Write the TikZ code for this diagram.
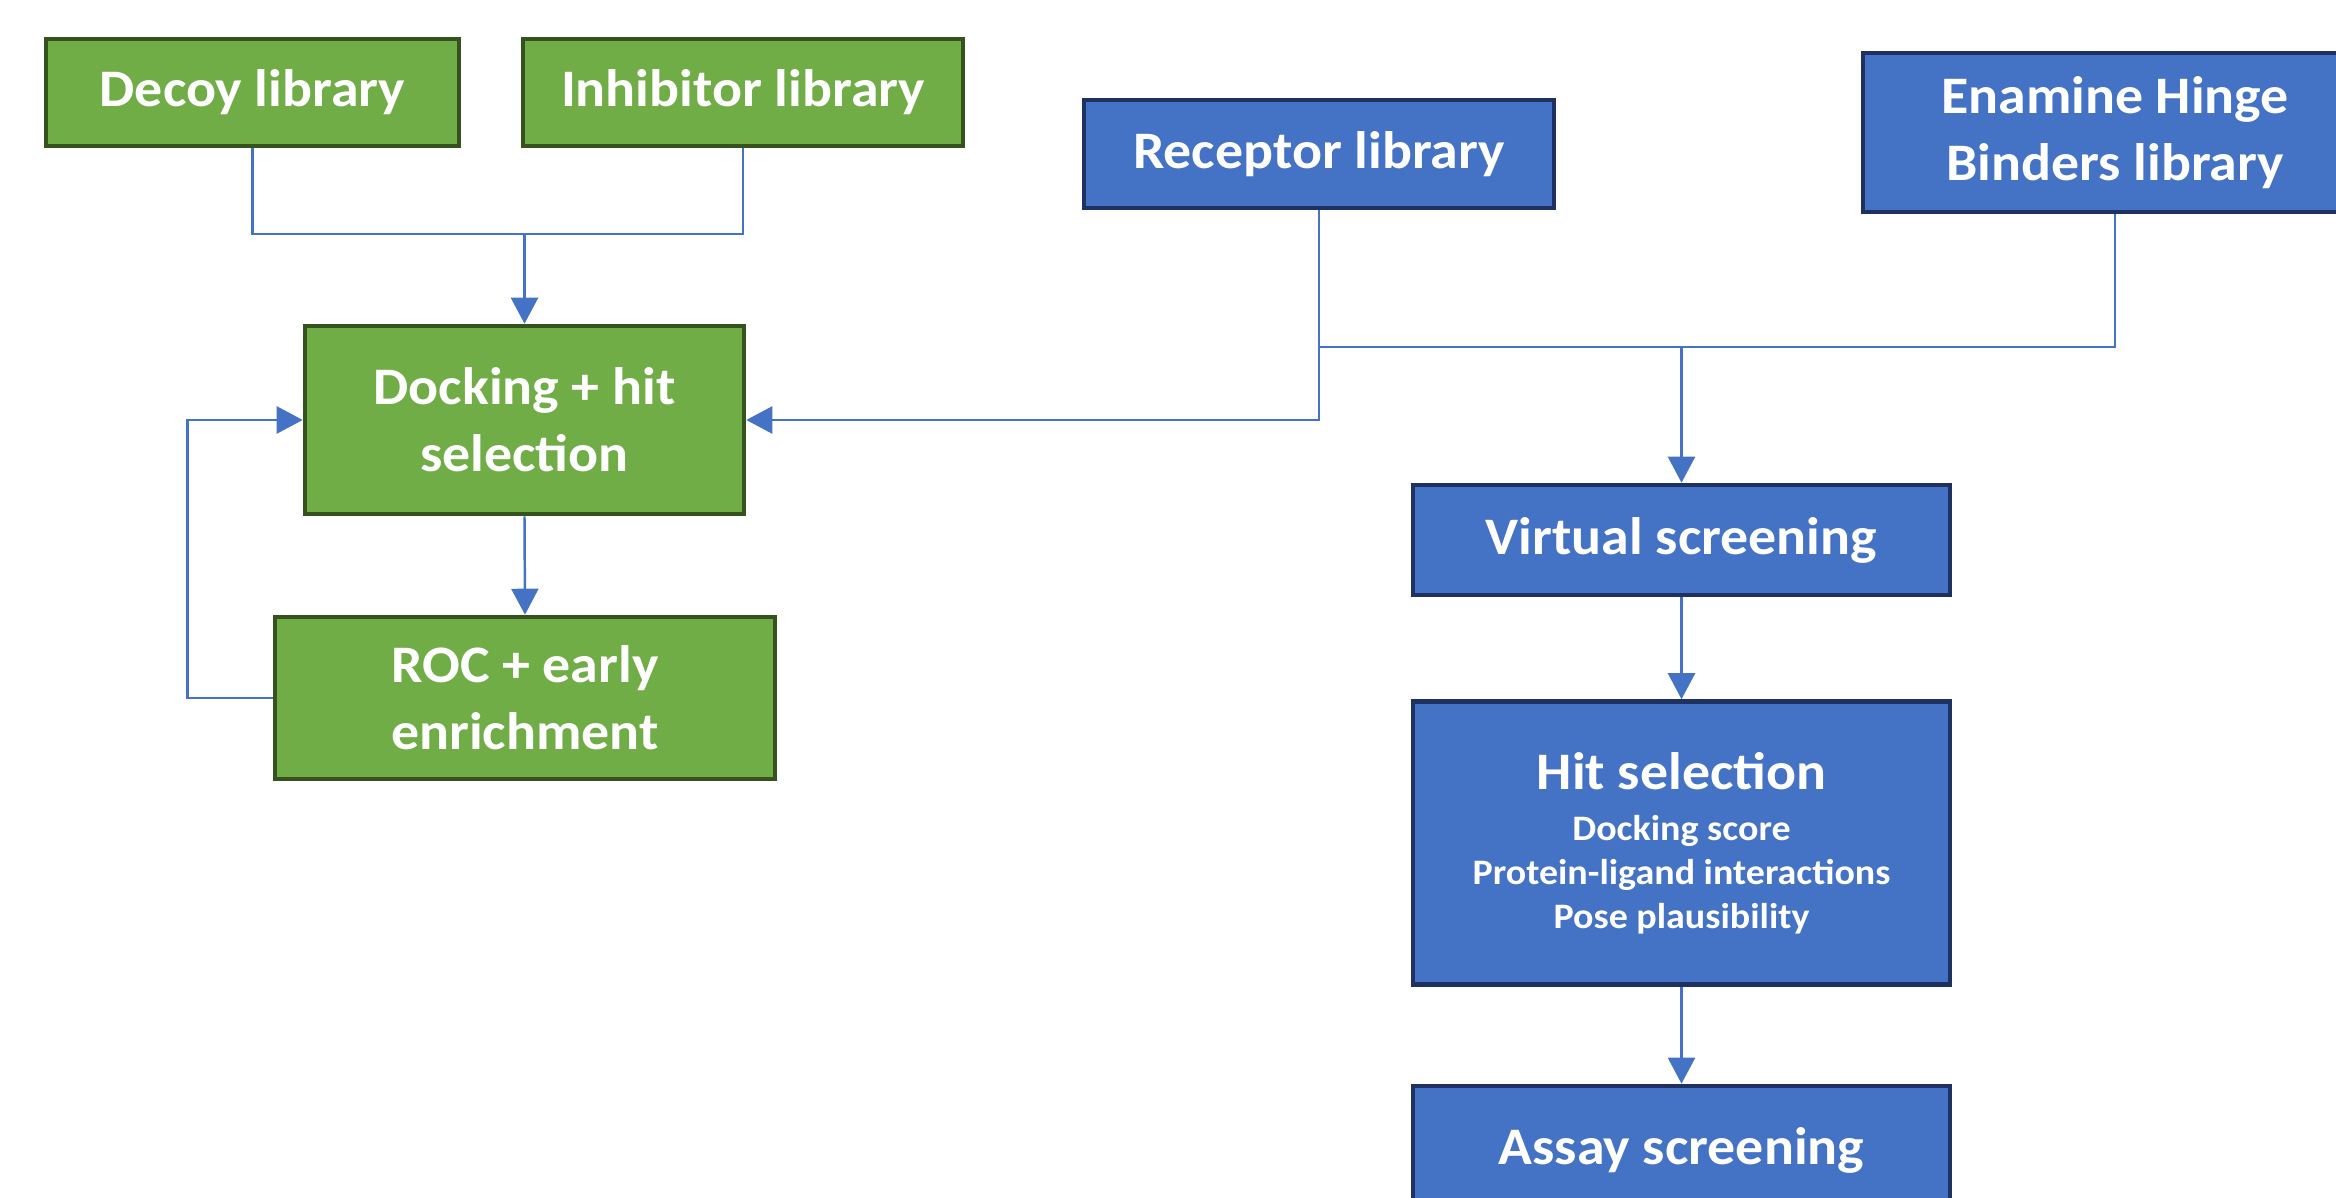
\documentclass[tikz,border=0pt]{standalone}
\usepackage{fontspec}
\setmainfont{Carlito}[FakeStretch=1.06]
\usetikzlibrary{arrows.meta}

\definecolor{stagegreen}{HTML}{70AD47}
\definecolor{stagegreenline}{HTML}{36531F}
\definecolor{stageblue}{HTML}{4472C4}
\definecolor{stageblueline}{HTML}{1E3160}

\begin{document}
\begin{tikzpicture}[x=0.1mm, y=-0.1mm,
                    box/.style={draw, line width=1.3pt, text=white,
                                font=\bfseries\fontsize{15}{19}\selectfont,
                                align=center, inner sep=0pt},
                    green box/.style={box, fill=stagegreen, draw=stagegreenline},
                    blue box/.style={box, fill=stageblue, draw=stageblueline},
                    link/.style={draw=stageblue, line width=0.7pt},
                    arrow/.style={link, -{Triangle[width=2.7mm,length=2.6mm]}}]

  % page frame, boxes on the right run off the edge
  \clip (0,0) rectangle (2336,1198);

  % Validation branch (green)
  \node [green box, minimum width=41.3mm, minimum height=10.7mm]
        (decoy lib) at (252.5,92.5) {Decoy library};
  \node [green box, minimum width=44mm, minimum height=10.7mm]
        (inhibitor lib) at (743,92.5) {Inhibitor library};
  \node [green box, minimum width=43.9mm, minimum height=18.8mm]
        (docking) at (524.5,420) {Docking + hit\\selection};
  \node [green box, minimum width=50mm, minimum height=16.2mm]
        (roc) at (525,698) {ROC + early\\enrichment};

  % Screening branch (blue)
  \node [blue box, minimum width=47mm, minimum height=10.8mm]
        (receptor lib) at (1319,154) {Receptor library};
  \node [blue box, minimum width=50.4mm, minimum height=15.9mm]
        (enamine lib) at (2115,132.5) {Enamine Hinge\\Binders library};
  \node [blue box, minimum width=53.7mm, minimum height=11mm]
        (virtual) at (1681.5,540) {Virtual screening};
  \node [blue box, minimum width=53.7mm, minimum height=28.3mm,
         font=\bfseries\fontsize{10.2}{12.5}\selectfont]
        (hit sel) at (1681.5,843)
        {{\fontsize{15}{14}\selectfont Hit selection}\\[2pt]
         Docking score\\Protein-ligand interactions\\Pose plausibility};
  \node [blue box, minimum width=53.7mm, minimum height=12.8mm]
        (assay) at (1681.5,1150) {Assay screening};

  % Joints where two libraries merge
  \coordinate (left join) at (524.5,234);
  \coordinate (right join) at (1681.5,347);

  % Libraries into docking
  \draw [link] (decoy lib.south) |- (left join) -| (inhibitor lib.south);
  \draw [arrow] (left join) -- (docking.north);
  \draw [arrow] (receptor lib.south) |- (docking.east);

  % Feedback loop
  \draw [arrow] (roc.west) -- ++(-85,0) |- (docking.west);
  \draw [arrow] (docking.south) -- (roc.north);

  % Libraries into screening
  \draw [link] (receptor lib.south |- right join) -- (right join)
               -| (enamine lib.south);
  \draw [arrow] (right join) -- (virtual.north);
  \draw [arrow] (virtual.south) -- (hit sel.north);
  \draw [arrow] (hit sel.south) -- (assay.north);

\end{tikzpicture}
\end{document}
